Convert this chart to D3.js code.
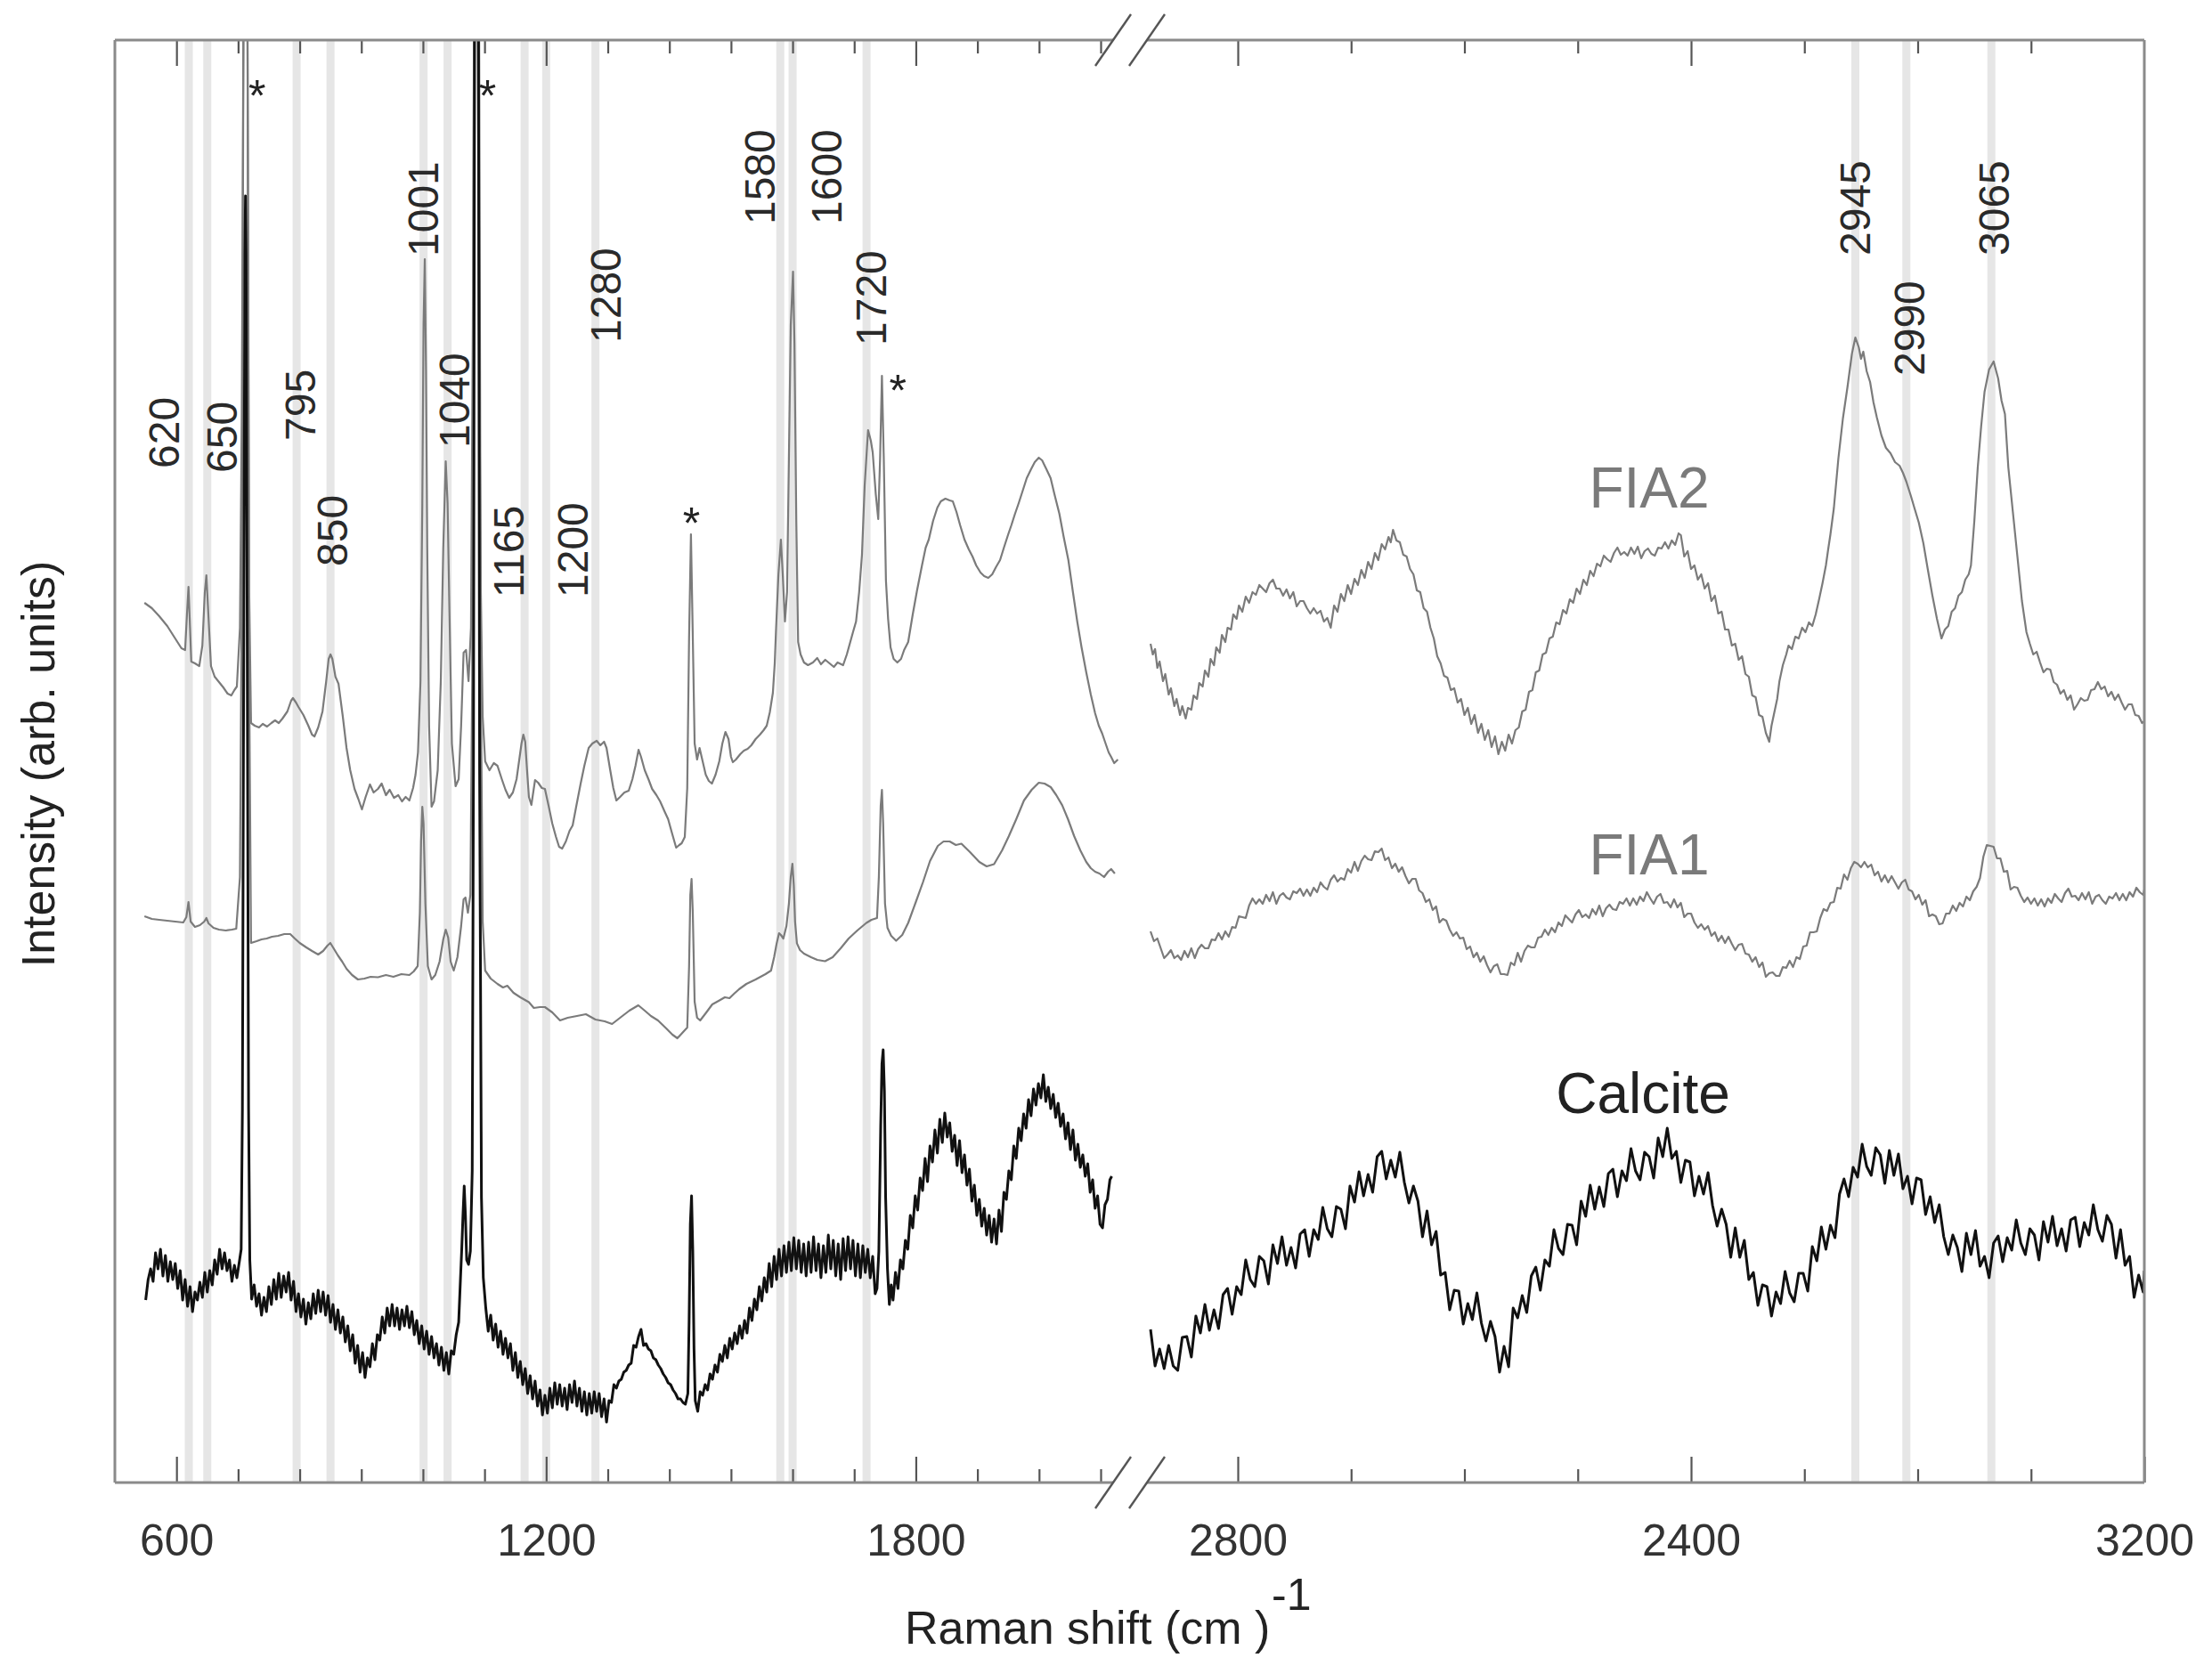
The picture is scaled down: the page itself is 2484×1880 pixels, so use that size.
<!DOCTYPE html>
<html>
<head>
<meta charset="utf-8">
<script src="https://cdn.jsdelivr.net/npm/d3@7"></script>
<style>
  body { margin: 0; background: #fff; }
  text { font-family: "Liberation Sans", Arial, sans-serif; }
</style>
</head>
<body>
<script>

// marked band positions (cm-1)
const bands = [620, 650, 795, 850, 1001, 1040, 1165, 1200, 1280, 1580, 1600, 1720, 2945, 2990, 3065]
const bandLabels = ['620', '650', '795', '850', '1001', '1040', '1165', '1200', '1280', '1580', '1600', '1720', '2945', '2990', '3065']
// calcite host peaks flagged with *
const starPeaks = [712, 1086, 1436, 1749]

const ticksLow = [600, 700, 800, 900, 1000, 1100, 1200, 1300, 1400, 1500, 1600, 1700, 1800, 1900, 2000, 2100]
const majorLow = [600, 1200, 1800]
const ticksHigh = [2400, 2500, 2600, 2700, 2800, 2900, 3000, 3100]
const majorHigh = [2400, 2800, 3200]
const majorHighLabels = ['2800', '2400', '3200']

const seriesNames = ['FIA2', 'FIA1', 'Calcite']

// spectra, [shift, intensity]; low range below the axis break, high range above it
const fia2Low = [[548,988],[560,982],[572,973],[585,962],[596,950],[608,937],[614,935],[617,975],[619.5,1006],[622,960],[624,922],[630,920],[637,917],[642,940],[646,1000],[648.5,1019],[651,985],[656,917],[662,905],[669,899],[676,893],[683,886],[689,884],[694,890],[698,894],[703,960],[706,1200],[709,1700],[712,1800],[715,1700],[718,1000],[721,853],[727,850],[734,848],[740,852],[747,849],[754,853],[760,856],[766,853],[772,858],[780,866],[786,878],[789,881],[794,876],[798,871],[806,862],[814,850],[820,840],[824,838],[830,848],[837,866],[843,900],[847,925],[850,930],[853,925],[858,905],[863,897],[870,860],[876,825],[882,800],[889,779],[895,768],[901,756],[907,770],[914,784],[920,775],[927,779],[933,785],[940,772],[946,778],[953,769],[960,772],[966,765],[972,770],[978,766],[984,780],[988,795],[992,820],[996,900],[999,1100],[1001,1300],[1003,1374],[1005,1250],[1007,1050],[1010,850],[1014,759],[1018,765],[1024,800],[1029,900],[1033,1050],[1037,1147],[1040,1100],[1043,980],[1047,830],[1053,782],[1058,790],[1062,850],[1066,932],[1070,935],[1074,900],[1078,960],[1081,1300],[1084,1800],[1088,1800],[1091,1300],[1094,1000],[1097,860],[1101,810],[1108,800],[1115,808],[1121,805],[1128,790],[1134,778],[1140,769],[1146,775],[1152,790],[1157,815],[1160,830],[1163,840],[1166,832],[1169,800],[1172,770],[1176,761],[1179,775],[1182,789],[1187,786],[1193,780],[1198,779],[1204,760],[1210,740],[1216,725],[1221,714],[1226,712],[1232,720],[1238,732],[1243,738],[1249,760],[1256,785],[1262,805],[1269,825],[1275,830],[1282,833],[1288,828],[1294,832],[1298,825],[1304,800],[1309,780],[1314,766],[1320,770],[1327,775],[1334,777],[1340,790],[1345,805],[1350,823],[1354,815],[1360,800],[1366,790],[1372,779],[1379,772],[1385,765],[1392,754],[1398,745],[1404,730],[1411,713],[1416,716],[1420,718],[1425,725],[1429,780],[1432,950],[1435,1065],[1438,950],[1441,830],[1445,812],[1449,825],[1454,810],[1459,795],[1464,788],[1469,785],[1475,795],[1481,810],[1486,830],[1491,843],[1496,835],[1500,815],[1503,809],[1508,812],[1515,818],[1521,822],[1527,824],[1533,828],[1540,835],[1547,840],[1553,845],[1558,850],[1563,865],[1568,887],[1571,920],[1573,956],[1577,1020],[1581,1059],[1584,1020],[1587.6,967],[1591,1000],[1594,1150],[1597,1300],[1600.7,1360],[1603,1280],[1606,1080],[1609,944],[1613,930],[1618.5,921],[1625,918],[1633,921],[1640,926],[1646,919],[1653,924],[1660,920],[1667,916],[1673,921],[1682,918],[1688,930],[1693.6,944],[1698,955],[1703,967],[1708,1000],[1712.6,1042],[1717,1120],[1722.5,1182],[1727,1170],[1730,1157],[1735,1110],[1739,1082],[1742,1150],[1745,1243],[1748,1150],[1751.5,1013],[1755,970],[1759,938],[1764,925],[1770,921],[1776,925],[1781,935],[1787.6,944],[1795,975],[1802,1002],[1810,1030],[1816,1050],[1821,1059],[1828,1080],[1835,1095],[1840.6,1102],[1848,1105],[1855,1103],[1860,1102],[1866,1090],[1872,1075],[1879,1059],[1886,1048],[1892,1040],[1898,1030],[1905,1022],[1911,1018],[1917.6,1016],[1924,1020],[1930,1028],[1936.7,1036],[1943,1050],[1950,1065],[1955,1075],[1961,1088],[1967,1100],[1974,1115],[1980,1128],[1987,1138],[1993,1146],[1999.6,1151],[2005,1148],[2012,1138],[2018.8,1128],[2025,1110],[2033,1088],[2040,1062],[2047.6,1036],[2055,1000],[2062,967],[2069,938],[2076.6,910],[2084,885],[2091,864],[2097,850],[2102.6,841],[2108,830],[2113,820],[2117,815],[2122,808],[2128,812]]

const fia1Low = [[548,636],[560,633],[572,632],[585,631],[598,630],[611,629],[616,635],[619.5,652],[623,630],[630,624],[638,626],[645,630],[648.5,634],[652,628],[660,623],[669,621],[680,620],[690,621],[697,622],[703,680],[706,1000],[709,1700],[712,1800],[715,1700],[718,900],[721,606],[730,608],[738,610],[746.5,611],[755,613],[765,614],[775,616],[784.6,616],[792,611],[800,606],[810.7,601],[820,597],[830,593],[838,597],[845,603],[849.7,606],[855,600],[862,592],[869,585],[876,577],[885,570],[894.5,565],[905,566],[915,568],[927,567.5],[940,570],[952,568],[965,571],[978,570],[985,574],[991.5,580],[995,640],[997,720],[999,759],[1001,740],[1004,650],[1008,580],[1014,565],[1020,570],[1027,585],[1033,610],[1037,621],[1041,612],[1045,585],[1050,575],[1056,590],[1062,625],[1066,655],[1069,657],[1073,640],[1077,660],[1080,900],[1083,1700],[1087,1800],[1091,1700],[1094,900],[1097,630],[1101,575],[1110,566],[1121,560],[1130,556],[1137,558],[1147,550],[1158,545],[1172,539.5],[1180,533],[1190,534],[1198,534],[1210,528],[1222.5,519],[1235,522],[1250,524],[1264.5,526],[1280,520],[1295,518],[1307,515],[1320,522],[1335,530],[1349.6,536],[1360,530],[1370,524],[1381.5,519],[1395,510],[1405,503],[1413,499],[1421,505],[1429,511],[1432,580],[1434,660],[1436,678],[1438,640],[1441,540],[1445,522],[1450,519],[1460,528],[1469.6,537],[1480,541],[1490,545],[1497.6,544],[1505,549],[1513,554],[1525,560],[1540,565],[1556,571],[1565,575],[1570,590],[1574,605],[1578,617],[1581,615],[1585,611],[1590,625],[1594,650],[1597,680],[1599.7,695],[1602,670],[1604,630],[1607,605.6],[1612,598],[1618.5,594],[1630,590],[1640,587],[1652.7,585.5],[1665,590],[1678,600],[1691,611],[1705,620],[1719.7,628.5],[1728,632],[1737,634],[1740,680],[1743,760],[1745,778],[1747,740],[1750,650],[1754,623],[1760,614],[1768,608.5],[1778,615],[1787.6,628.5],[1800,652],[1811.7,674.5],[1823,698],[1835.7,715],[1845,720],[1855,720],[1865,716],[1874,717.5],[1888,708],[1903,697],[1915,692],[1927,694.5],[1940,710],[1951,726],[1963,745],[1975.5,766],[1988,778],[1999.6,786],[2009,785],[2019,781],[2028,772],[2037.6,760.6],[2047,745],[2057,726],[2067,710],[2076.6,697],[2084,690],[2091,686],[2098,684],[2105.5,680],[2112,686],[2117,689],[2123,684]]

const calciteLow = [[550,205],[554,228],[558,240],[562,226],[566,258],[570,240],[574,262],[578,232],[582,255],[586,226],[590,248],[594,228],[598,246],[602,218],[606,238],[610,205],[614,228],[618,198],[622,220],[626,192],[630,214],[634,205],[638,225],[642,208],[646,236],[650,214],[654,238],[658,222],[662,250],[666,234],[670,262],[674,240],[678,258],[682,238],[686,250],[690,226],[694,244],[698,230],[702,248],[705,262],[707,420],[709,900],[711,1380],[712,1445],[713,1380],[715,900],[717,420],[719,250],[722,206],[726,222],[730,198],[734,212],[738,188],[742,208],[746,192],[750,220],[754,200],[758,228],[762,206],[766,235],[770,208],[774,232],[778,214],[782,236],[786,205],[790,226],[794,192],[798,212],[802,186],[806,206],[810,178],[814,202],[818,184],[822,212],[826,190],[830,216],[834,192],[838,214],[842,188],[846,210],[850,180],[854,200],[858,172],[862,194],[866,168],[870,186],[874,158],[878,176],[882,148],[886,166],[890,134],[894,154],[898,124],[902,146],[906,118],[910,140],[914,130],[918,156],[922,138],[926,166],[930,160],[934,186],[938,168],[942,196],[946,176],[950,200],[954,176],[958,196],[962,172],[966,194],[970,176],[974,198],[978,174],[982,192],[986,166],[990,182],[994,156],[998,176],[1002,150],[1006,170],[1010,144],[1014,164],[1018,140],[1022,156],[1026,132],[1030,152],[1034,126],[1038,146],[1042,122],[1046,148],[1050,144],[1054,166],[1058,180],[1061,230],[1063,262],[1065,300],[1067,333],[1069,300],[1071,250],[1074,245],[1077,260],[1080,350],[1082,800],[1084,1700],[1087,1800],[1090,1700],[1092,800],[1095,320],[1098,230],[1102,196],[1106,170],[1110,188],[1114,160],[1118,178],[1122,152],[1126,170],[1130,144],[1134,162],[1138,140],[1142,156],[1146,126],[1150,146],[1154,118],[1158,136],[1162,110],[1166,128],[1170,100],[1174,120],[1178,94],[1182,114],[1186,86],[1190,104],[1194,76],[1198,98],[1202,78],[1206,106],[1210,84],[1214,112],[1218,88],[1222,110],[1226,86],[1230,106],[1234,82],[1238,110],[1242,90],[1246,114],[1250,86],[1254,106],[1258,80],[1262,102],[1266,76],[1270,100],[1274,78],[1278,102],[1282,80],[1286,100],[1290,74],[1294,94],[1298,68],[1302,92],[1306,90],[1310,110],[1314,106],[1318,114],[1322,116],[1326,124],[1330,126],[1334,132],[1338,134],[1342,154],[1346,152],[1350,164],[1354,172],[1358,154],[1362,156],[1366,150],[1370,148],[1374,140],[1378,138],[1382,132],[1386,128],[1390,122],[1394,118],[1398,112],[1402,110],[1406,104],[1410,100],[1414,94],[1418,94],[1422,90],[1426,88],[1430,100],[1432,180],[1434,290],[1436,322],[1438,260],[1440,150],[1442,92],[1446,80],[1450,102],[1454,98],[1458,110],[1462,104],[1466,122],[1470,116],[1474,132],[1478,124],[1482,144],[1486,136],[1490,154],[1494,140],[1498,162],[1502,150],[1506,168],[1510,156],[1514,176],[1518,162],[1522,182],[1526,168],[1530,196],[1534,182],[1538,206],[1542,194],[1546,220],[1550,204],[1554,230],[1558,214],[1562,246],[1566,220],[1570,254],[1574,228],[1578,262],[1582,232],[1586,266],[1590,236],[1594,270],[1598,238],[1602,275],[1606,240],[1610,272],[1614,236],[1618,268],[1622,232],[1626,270],[1630,236],[1634,276],[1638,238],[1642,268],[1646,230],[1650,266],[1654,236],[1658,278],[1662,240],[1666,272],[1670,232],[1674,268],[1678,228],[1682,274],[1686,238],[1690,276],[1694,240],[1698,272],[1702,232],[1706,268],[1710,230],[1714,266],[1718,236],[1722,262],[1726,230],[1730,254],[1734,212],[1737,218],[1740,260],[1743,400],[1745,470],[1747,486],[1749,440],[1751,320],[1754,240],[1757,200],[1760,222],[1763,205],[1767,236],[1771,218],[1775,250],[1779,240],[1783,272],[1787,262],[1791,300],[1795,286],[1799,322],[1803,306],[1807,342],[1811,328],[1815,364],[1819,338],[1823,378],[1827,360],[1831,396],[1835,370],[1839,408],[1843,382],[1847,415],[1851,388],[1855,404],[1859,372],[1863,390],[1867,356],[1871,384],[1875,348],[1879,368],[1883,334],[1887,352],[1891,316],[1895,334],[1899,300],[1903,318],[1907,288],[1911,308],[1915,278],[1919,300],[1923,270],[1927,296],[1931,268],[1935,306],[1939,282],[1943,326],[1947,318],[1951,350],[1955,340],[1959,378],[1963,364],[1967,398],[1971,384],[1975,414],[1979,398],[1983,430],[1987,412],[1991,442],[1995,424],[1999,448],[2003,432],[2007,458],[2011,428],[2015,444],[2019,420],[2023,436],[2027,410],[2031,426],[2035,400],[2039,414],[2043,386],[2047,404],[2051,374],[2055,396],[2059,362],[2063,380],[2067,354],[2071,368],[2075,344],[2079,358],[2083,326],[2087,340],[2091,308],[2095,322],[2099,290],[2103,286],[2107,312],[2111,318],[2115,340],[2118,344]]

const fia2High = [[2323,942],[2325,930],[2327,936],[2329,915],[2331,922],[2334,900],[2336,908],[2339,885],[2341,892],[2344,872],[2346,880],[2349,862],[2351,872],[2354,858],[2356,870],[2359,868],[2361,884],[2364,880],[2366,898],[2369,894],[2371,912],[2374,905],[2376,925],[2379,918],[2381,938],[2384,932],[2386,952],[2389,944],[2391,960],[2394,958],[2396,975],[2399,970],[2401,985],[2404,978],[2407,995],[2410,988],[2413,1000],[2416,997],[2419,1008],[2422,1004],[2425,1000],[2428,1010],[2431,1014],[2434,1004],[2437,1004],[2440,996],[2443,1003],[2446,993],[2449,1000],[2452,984],[2455,990],[2458,990],[2461,982],[2464,976],[2467,982],[2470,976],[2473,979],[2476,967],[2479,971],[2482,960],[2485,985],[2488,978],[2491,998],[2494,990],[2497,1008],[2500,998],[2503,1015],[2506,1008],[2509,1025],[2512,1016],[2515,1034],[2518,1026],[2521,1044],[2524,1036],[2527,1054],[2530,1048],[2533,1062],[2535,1056],[2537,1070],[2540,1058],[2543,1056],[2546,1042],[2549,1040],[2552,1026],[2555,1020],[2558,1002],[2561,1000],[2564,982],[2567,978],[2570,960],[2573,948],[2576,928],[2579,920],[2582,906],[2585,904],[2588,890],[2591,892],[2594,876],[2597,880],[2600,862],[2603,870],[2606,852],[2609,862],[2612,842],[2615,852],[2618,834],[2621,845],[2624,826],[2627,838],[2630,818],[2633,832],[2636,822],[2639,840],[2642,830],[2645,845],[2648,848],[2651,866],[2654,868],[2657,888],[2660,890],[2663,910],[2666,912],[2669,930],[2672,932],[2675,948],[2678,950],[2681,966],[2684,964],[2687,980],[2690,976],[2693,992],[2696,988],[2699,1004],[2702,998],[2705,1014],[2708,1008],[2711,1024],[2714,1018],[2717,1032],[2720,1029],[2723,1041],[2726,1037],[2729,1034],[2732,1044],[2735,1050],[2738,1042],[2741,1045],[2744,1041],[2747,1050],[2750,1043],[2753,1051],[2756,1038],[2759,1046],[2762,1049],[2765,1043],[2768,1041],[2771,1050],[2774,1049],[2777,1056],[2780,1049],[2783,1058],[2786,1053],[2789,1066],[2791,1064],[2794,1040],[2797,1046],[2800,1026],[2803,1030],[2806,1014],[2809,1020],[2812,1004],[2815,1010],[2818,990],[2821,996],[2824,976],[2827,978],[2830,958],[2833,958],[2836,940],[2839,942],[2842,924],[2845,928],[2848,908],[2851,905],[2854,884],[2857,882],[2860,862],[2863,860],[2866,842],[2869,832],[2871,850],[2873,862],[2876,880],[2878,900],[2881,918],[2884,930],[2886,940],[2889,936],[2892,950],[2895,948],[2898,960],[2901,955],[2904,966],[2907,962],[2910,975],[2913,992],[2916,1010],[2919,1030],[2921,1048],[2923,1065],[2926,1094],[2930,1150],[2934,1195],[2938,1230],[2942,1268],[2945,1286],[2948,1275],[2950,1262],[2952,1270],[2955,1248],[2958,1236],[2961,1213],[2964,1196],[2968,1176],[2972,1162],[2976,1156],[2980,1146],[2984,1142],[2987,1134],[2990,1124],[2994,1108],[2997,1095],[3001,1078],[3005,1055],[3009,1025],[3013,996],[3017,970],[3021,948],[3024,958],[3027,962],[3030,978],[3033,982],[3036,996],[3039,1000],[3042,1014],[3045,1020],[3047,1030],[3050,1080],[3053,1140],[3056,1186],[3059,1225],[3063,1250],[3067,1259],[3071,1240],[3074,1215],[3077,1200],[3080,1140],[3084,1090],[3088,1040],[3092,990],[3096,955],[3099,942],[3102,930],[3105,933],[3108,921],[3111,910],[3114,914],[3117,913],[3120,899],[3123,896],[3126,886],[3129,890],[3132,879],[3135,884],[3138,868],[3141,874],[3144,881],[3147,878],[3150,879],[3153,890],[3156,891],[3159,899],[3162,891],[3165,894],[3168,883],[3171,888],[3174,879],[3177,885],[3180,876],[3183,868],[3186,874],[3189,874],[3192,862],[3195,861],[3198,853],[3200,855]]

const fia1High = [[2323,619],[2326,608],[2329,611],[2332,600],[2335,589],[2338,593],[2341,598],[2344,589],[2347,592],[2350,587],[2353,597],[2356,590],[2359,600],[2362,589],[2365,599],[2368,604],[2371,600],[2374,600],[2377,610],[2380,609],[2383,617],[2386,610],[2389,619],[2392,613],[2395,624],[2398,623],[2401,636],[2404,635],[2407,634],[2410,648],[2413,656],[2416,650],[2419,655],[2422,650],[2425,660],[2428,653],[2431,663],[2434,650],[2437,659],[2440,662],[2443,657],[2446,655],[2449,664],[2452,662],[2455,667],[2458,659],[2461,666],[2464,659],[2467,668],[2470,663],[2473,674],[2476,669],[2479,666],[2482,677],[2485,682],[2488,675],[2491,679],[2494,677],[2497,689],[2500,685],[2503,697],[2506,687],[2509,698],[2512,704],[2515,700],[2518,699],[2521,709],[2524,708],[2527,712],[2530,699],[2533,702],[2536,690],[2539,695],[2542,686],[2545,691],[2548,681],[2551,673],[2554,678],[2557,678],[2560,665],[2563,662],[2566,652],[2569,655],[2572,643],[2575,647],[2578,629],[2581,633],[2584,631],[2587,621],[2590,614],[2593,618],[2596,611],[2599,612],[2602,599],[2605,602],[2608,590],[2611,595],[2614,585],[2617,591],[2620,581],[2623,573],[2626,580],[2629,582],[2632,571],[2635,571],[2638,570],[2641,584],[2644,581],[2647,595],[2650,585],[2653,597],[2656,603],[2659,601],[2662,601],[2665,612],[2668,613],[2671,621],[2674,615],[2677,623],[2680,618],[2683,629],[2686,625],[2689,637],[2692,633],[2695,629],[2698,638],[2701,643],[2704,635],[2707,638],[2710,634],[2713,644],[2716,638],[2719,648],[2722,636],[2725,645],[2728,649],[2731,644],[2734,643],[2737,652],[2740,650],[2743,656],[2746,648],[2749,656],[2752,649],[2755,658],[2758,653],[2761,663],[2764,656],[2767,650],[2770,658],[2773,661],[2776,651],[2779,652],[2782,646],[2785,655],[2788,646],[2791,651],[2794,635],[2797,639],[2800,639],[2803,629],[2806,623],[2809,627],[2812,621],[2815,625],[2818,614],[2821,618],[2824,608],[2827,614],[2830,606],[2833,613],[2836,605],[2839,598],[2842,604],[2845,605],[2848,594],[2851,593],[2854,585],[2857,590],[2860,579],[2863,584],[2866,568],[2869,572],[2872,573],[2875,569],[2878,569],[2881,579],[2884,578],[2887,586],[2890,579],[2893,590],[2896,588],[2899,602],[2902,603],[2905,618],[2908,618],[2911,619],[2914,634],[2917,644],[2920,642],[2923,651],[2926,652],[2929,668],[2932,667],[2935,683],[2938,677],[2941,690],[2944,697],[2947,695],[2950,691],[2953,697],[2956,691],[2959,694],[2962,682],[2965,686],[2968,675],[2971,682],[2974,674],[2977,681],[2980,674],[2983,667],[2986,674],[2989,677],[2992,666],[2995,664],[2998,655],[3001,660],[3004,649],[3007,654],[3010,636],[3013,638],[3016,636],[3019,627],[3022,628],[3025,639],[3028,639],[3031,648],[3034,642],[3037,651],[3040,647],[3043,658],[3046,654],[3049,664],[3052,669],[3055,679],[3058,703],[3061,716],[3064,715],[3067,714],[3070,701],[3073,701],[3076,686],[3079,687],[3082,666],[3085,669],[3088,668],[3091,659],[3094,652],[3097,657],[3100,650],[3103,656],[3106,648],[3109,655],[3112,647],[3115,656],[3118,651],[3121,661],[3124,656],[3127,652],[3130,662],[3133,667],[3136,658],[3139,659],[3142,654],[3145,662],[3148,655],[3151,663],[3154,650],[3157,658],[3160,660],[3163,654],[3166,650],[3169,658],[3172,656],[3175,662],[3178,654],[3181,661],[3184,654],[3187,663],[3190,658],[3193,668],[3196,663],[3199,660],[3200,666]]

const calciteHigh = [[2323,172],[2327,131],[2331,150],[2335,128],[2339,154],[2343,131],[2347,126],[2351,163],[2355,164],[2359,141],[2363,187],[2367,168],[2371,200],[2375,171],[2379,194],[2383,173],[2387,211],[2391,218],[2395,189],[2399,220],[2403,211],[2407,250],[2411,228],[2415,220],[2419,254],[2423,249],[2427,223],[2431,267],[2435,246],[2439,276],[2443,244],[2447,264],[2451,241],[2455,279],[2459,284],[2463,254],[2467,284],[2471,273],[2475,309],[2479,285],[2483,276],[2487,310],[2491,307],[2495,285],[2499,333],[2503,315],[2507,349],[2511,322],[2515,346],[2519,326],[2523,366],[2527,372],[2531,341],[2535,362],[2539,343],[2543,371],[2547,337],[2551,314],[2555,333],[2559,316],[2563,276],[2567,305],[2571,267],[2575,282],[2579,233],[2583,236],[2587,194],[2591,216],[2595,215],[2599,178],[2603,201],[2607,183],[2611,213],[2615,179],[2619,159],[2623,181],[2627,164],[2631,124],[2635,153],[2639,130],[2643,196],[2647,185],[2651,210],[2655,191],[2659,232],[2663,242],[2667,216],[2671,250],[2675,243],[2679,284],[2683,263],[2687,256],[2691,290],[2695,289],[2699,267],[2703,316],[2707,299],[2711,334],[2715,307],[2719,332],[2723,310],[2727,347],[2731,352],[2735,321],[2739,350],[2743,339],[2747,375],[2751,350],[2755,340],[2759,371],[2763,366],[2767,342],[2771,387],[2775,366],[2779,398],[2783,364],[2787,372],[2791,337],[2795,362],[2799,360],[2803,322],[2807,344],[2811,324],[2815,348],[2819,311],[2823,288],[2827,307],[2831,290],[2835,253],[2839,286],[2843,253],[2847,272],[2851,228],[2855,236],[2859,199],[2863,222],[2867,220],[2871,187],[2875,214],[2879,201],[2883,237],[2887,213],[2891,203],[2895,235],[2899,235],[2903,215],[2907,265],[2911,249],[2915,287],[2919,262],[2923,289],[2927,275],[2931,324],[2935,341],[2939,321],[2943,354],[2947,343],[2951,380],[2955,355],[2959,345],[2963,376],[2967,368],[2971,336],[2975,373],[2979,345],[2983,369],[2987,330],[2991,344],[2995,313],[2999,342],[3003,340],[3007,301],[3011,321],[3015,292],[3019,312],[3023,276],[3027,256],[3031,278],[3035,264],[3039,237],[3043,280],[3047,256],[3051,283],[3055,243],[3059,254],[3063,230],[3067,269],[3071,277],[3075,248],[3079,275],[3083,261],[3087,295],[3091,269],[3095,256],[3099,285],[3103,278],[3107,250],[3111,293],[3115,270],[3119,299],[3123,266],[3127,285],[3131,260],[3135,295],[3139,298],[3143,265],[3147,292],[3151,278],[3155,312],[3159,284],[3163,271],[3167,300],[3171,290],[3175,252],[3179,284],[3183,244],[3187,254],[3191,208],[3195,233],[3199,214],[3200,238]]

// ---------- layout ----------
const m = { width: 2484, height: 1880 }
const box = { left: 129, right: 2408, top: 45, bottom: 1665 }
const gapL = 1250, gapR = 1288   // axis break

const xLow = d3.scaleLinear().domain([500, 2100]).range([box.left, 1236])
const xHigh = d3.scaleLinear().domain([2400, 3200]).range([1390, box.right])
const y = d3.scaleLinear().domain([0, 1620]).range([box.bottom, box.top])
const xOf = v => v < 2250 ? xLow(v) : xHigh(v)

// where each band label sits: horizontal nudge from its band, bottom of the text
const labelPlace = [[-11,526],[33,531],[21,495],[19,636],[16,288],[24,503],[-1,671],[47,671],[28,385],[-6,252],[55,252],[22,388],[16,287],[20,422],[20,287]]
const starPlace = [[13,97],[13,97],[0,577],[15,428]]
const nameColors = ['#7a7a7a', '#7a7a7a', '#222']
const namePlace = [[1852,570],[1852,982],[1845,1250]]

const svg = d3.select('body').append('svg')
    .attr('width', m.width)
    .attr('height', m.height)

svg.append('defs').append('clipPath')
    .attr('id', 'plotclip')
  .append('rect')
    .attr('x', box.left).attr('y', box.top)
    .attr('width', box.right - box.left).attr('height', box.bottom - box.top)

// grey band markers
svg.append('g').selectAll('rect')
    .data(bands)
    .enter()
    .append('rect')
        .attr('x', d => xOf(d) - 4.5)
        .attr('y', box.top)
        .attr('width', 9)
        .attr('height', box.bottom - box.top)
        .attr('fill', '#e6e6e6')

// spectra
const line = xs => d3.line().x(d => xs(d[0])).y(d => y(d[1]))
const spectra = [
    { low: fia2Low, high: fia2High, color: '#7b7b7b', w: 2.2 },
    { low: fia1Low, high: fia1High, color: '#7b7b7b', w: 2.2 },
    { low: calciteLow, high: calciteHigh, color: '#111', w: 3 }
]
const gs = svg.append('g').attr('clip-path', 'url(#plotclip)')
spectra.forEach(s => {
    gs.append('path').attr('d', line(xLow)(s.low))
        .attr('fill', 'none').attr('stroke', s.color).attr('stroke-width', s.w).attr('stroke-linejoin', 'round')
    gs.append('path').attr('d', line(xHigh)(s.high))
        .attr('fill', 'none').attr('stroke', s.color).attr('stroke-width', s.w).attr('stroke-linejoin', 'round')
})

// ticks: bottom (with labels) and top, both pointing inwards
function tickRow(scale, vals, len, yPos, orient, fmt) {
    const ax = (orient === 'bottom' ? d3.axisBottom(scale) : d3.axisTop(scale))
        .tickValues(vals).tickSize(-len).tickPadding(46).tickFormat(fmt || '')
    const g = svg.append('g').attr('transform', `translate(0,${yPos})`).call(ax)
    g.select('.domain').remove()
    g.selectAll('line').attr('stroke', '#555').attr('stroke-width', 2.2)
    g.selectAll('text').attr('font-size', 50).attr('fill', '#333')
        .attr('font-family', '"Liberation Sans", Arial, sans-serif')
    return g
}
const minorLow = ticksLow.filter(t => !majorLow.includes(t))
const minorHigh = ticksHigh.filter(t => !majorHigh.includes(t))
tickRow(xLow, minorLow, 15, box.bottom, 'bottom')
tickRow(xLow, majorLow, 29, box.bottom, 'bottom', d => d)
tickRow(xHigh, minorHigh, 15, box.bottom, 'bottom')
tickRow(xHigh, majorHigh, 29, box.bottom, 'bottom', (d, i) => majorHighLabels[i])
tickRow(xLow, minorLow, 15, box.top, 'top')
tickRow(xLow, majorLow, 29, box.top, 'top')
tickRow(xHigh, minorHigh, 15, box.top, 'top')
tickRow(xHigh, majorHigh.slice(0, 2), 29, box.top, 'top')

// frame with the broken x axis
const frame = svg.append('g').attr('stroke', '#8a8a8a').attr('stroke-width', 3).attr('fill', 'none')
const segs = [
    [box.left, box.top, gapL, box.top], [gapR, box.top, box.right, box.top],
    [box.left, box.bottom, gapL, box.bottom], [gapR, box.bottom, box.right, box.bottom],
    [box.left, box.top, box.left, box.bottom], [box.right, box.top, box.right, box.bottom]
]
frame.selectAll('line.f').data(segs).enter().append('line')
    .attr('x1', d => d[0]).attr('y1', d => d[1]).attr('x2', d => d[2]).attr('y2', d => d[3])
const slashes = []
;[box.top, box.bottom].forEach(yy => [1230, 1268].forEach(x0 => slashes.push([x0, yy + 29, x0 + 40, yy - 29])))
frame.selectAll('line.s').data(slashes).enter().append('line')
    .attr('stroke', '#555').attr('stroke-width', 2.4)
    .attr('x1', d => d[0]).attr('y1', d => d[1]).attr('x2', d => d[2]).attr('y2', d => d[3])

// band labels
svg.append('g').selectAll('text')
    .data(bands)
    .enter()
    .append('text')
        .attr('transform', (d, i) => `translate(${xOf(d) + labelPlace[i][0]},${labelPlace[i][1]}) rotate(-90)`)
        .attr('font-size', 48)
        .attr('fill', '#2a2a2a')
        .text((d, i) => bandLabels[i])

// asterisks on calcite peaks
svg.append('g').selectAll('text')
    .data(starPeaks)
    .enter()
    .append('text')
        .attr('x', (d, i) => xOf(d) + starPlace[i][0])
        .attr('y', (d, i) => starPlace[i][1] + 28)
        .attr('text-anchor', 'middle')
        .attr('font-size', 50)
        .attr('fill', '#222')
        .text('*')

// series names
svg.append('g').selectAll('text')
    .data(seriesNames)
    .enter()
    .append('text')
        .attr('x', (d, i) => namePlace[i][0])
        .attr('y', (d, i) => namePlace[i][1])
        .attr('text-anchor', 'middle')
        .attr('font-size', 64)
        .attr('fill', (d, i) => nameColors[i])
        .text(d => d)

// axis titles
svg.append('text')
    .attr('transform', 'translate(61,858) rotate(-90)')
    .attr('text-anchor', 'middle')
    .attr('font-size', 52)
    .attr('fill', '#222')
    .text('Intensity (arb. units)')

svg.append('text')
    .attr('x', 1016).attr('y', 1846)
    .attr('font-size', 52)
    .attr('fill', '#222')
    .text('Raman shift (cm )')
svg.append('text')
    .attr('x', 1428).attr('y', 1808)
    .attr('font-size', 50)
    .attr('fill', '#222')
    .text('-1')

</script>
</body>
</html>
